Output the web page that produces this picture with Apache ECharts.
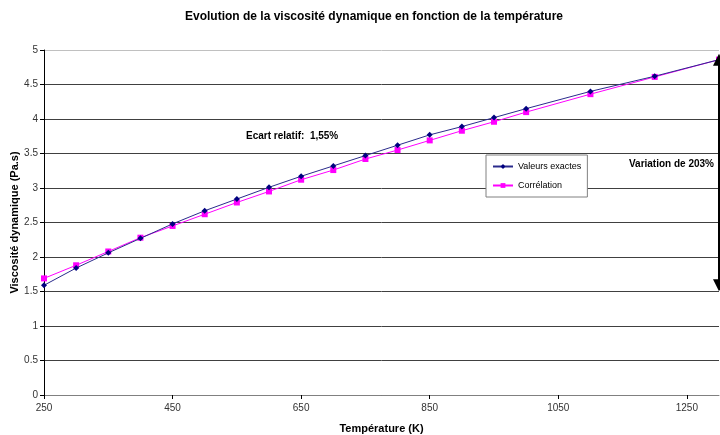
<!DOCTYPE html>
<html>
<head>
<meta charset="utf-8">
<script src="https://cdn.jsdelivr.net/npm/echarts@6/dist/echarts.min.js"></script>
<style>html,body{margin:0;padding:0;background:#fff}#c{width:720px;height:435px}</style>
</head>
<body>
<div id="c"></div>
<script>
var temperatures = [250, 300, 350, 400, 450, 500, 550, 600, 650, 700, 750, 800, 850, 900, 950, 1000, 1100, 1200, 1300];
var valeursExactes = [1.59, 1.84, 2.06, 2.27, 2.48, 2.67, 2.84, 3.01, 3.17, 3.32, 3.47, 3.62, 3.77, 3.89, 4.02, 4.15, 4.40, 4.62, 4.86];
var correlation = [1.69, 1.88, 2.08, 2.28, 2.45, 2.62, 2.79, 2.95, 3.12, 3.26, 3.42, 3.55, 3.69, 3.83, 3.96, 4.10, 4.36, 4.61, 4.86];
var seriesNames = ['Valeurs exactes', 'Corrélation'];
var variationRange = [4.86, 1.59];

function pairs(xs, ys) { return xs.map(function (x, i) { return [x, ys[i]]; }); }

var FONT = '"Liberation Sans", Arial, sans-serif';
var gridColors = [];
for (var i = 0; i < 11; i++) gridColors.push(i === 10 ? '#c0c0c0' : '#404040');

var chart = echarts.init(document.getElementById('c'), null, {renderer: 'canvas'});
chart.setOption({
  animation: false,
  backgroundColor: '#fff',
  textStyle: {fontFamily: FONT},
  title: {
    text: 'Evolution de la viscosité dynamique en fonction de la température',
    left: 369, top: 6, textAlign: 'center',
    textStyle: {fontFamily: FONT, fontSize: 12, fontWeight: 'bold', color: '#000'}
  },
  grid: {left: 44, right: 1, top: 50, bottom: 40, containLabel: false, outerBoundsMode: 'none'},
  xAxis: {
    type: 'value', min: 250, max: 1300, interval: 200,
    name: 'Température (K)', nameLocation: 'middle', nameGap: 28,
    nameTextStyle: {fontFamily: FONT, fontSize: 11, fontWeight: 'bold', color: '#000'},
    axisLine: {show: true, lineStyle: {color: '#808080', width: 1}},
    axisTick: {show: true, length: 4, lineStyle: {color: '#000'}},
    axisLabel: {fontFamily: FONT, fontSize: 10, color: '#333', margin: 8, showMaxLabel: false,
      formatter: function (v) { return String(v); }},
    splitLine: {show: false}
  },
  yAxis: {
    type: 'value', min: 0, max: 5, interval: 0.5,
    name: 'Viscosité dynamique (Pa.s)', nameLocation: 'middle', nameGap: 24, nameMoveOverlap: false,
    nameTextStyle: {fontFamily: FONT, fontSize: 11, fontWeight: 'bold', color: '#000'},
    axisLine: {show: true, lineStyle: {color: '#000', width: 1}},
    axisTick: {show: true, length: 4, lineStyle: {color: '#000'}},
    axisLabel: {fontFamily: FONT, fontSize: 10, color: '#333', margin: 6,
      formatter: function (v) { return String(v); }},
    splitLine: {show: true, lineStyle: {color: gridColors, width: 1}}
  },
  legend: {
    orient: 'vertical', left: 486, top: 155,
    backgroundColor: '#fff', borderColor: '#808080', borderWidth: 1,
    padding: [7, 6, 7, 6], itemGap: 10, itemWidth: 20, itemHeight: 6,
    textStyle: {fontFamily: FONT, fontSize: 9, color: '#000'},
    data: seriesNames
  },
  series: [
    {
      name: seriesNames[0], type: 'line', data: pairs(temperatures, valeursExactes),
      symbol: 'diamond', symbolSize: 6, showAllSymbol: true, clip: false,
      lineStyle: {color: '#2b2b8c', width: 1},
      itemStyle: {color: '#000080', borderWidth: 0},
      emphasis: {disabled: true},
      markLine: {
        silent: true, symbol: ['triangle', 'triangle'], symbolSize: 12,
        label: {show: false},
        lineStyle: {color: '#000', width: 2, type: 'solid'},
        data: [[{coord: [1300, variationRange[0]]}, {coord: [1300, variationRange[1]]}]]
      },
      z: 3
    },
    {
      name: seriesNames[1], type: 'line', data: pairs(temperatures, correlation),
      symbol: 'rect', symbolSize: 6, showAllSymbol: true,
      lineStyle: {color: '#ff00ff', width: 1},
      itemStyle: {color: '#ff00ff', borderWidth: 0},
      emphasis: {disabled: true},
      z: 2
    }
  ],
  graphic: [
    {type: 'text', left: 246, top: 131, style: {text: 'Ecart relatif:  1,55%', fill: '#000', font: 'bold 10px ' + FONT}},
    {type: 'text', right: 6, top: 159, style: {text: 'Variation de 203%', fill: '#000', font: 'bold 10px ' + FONT}}
  ]
});
</script>
</body>
</html>
